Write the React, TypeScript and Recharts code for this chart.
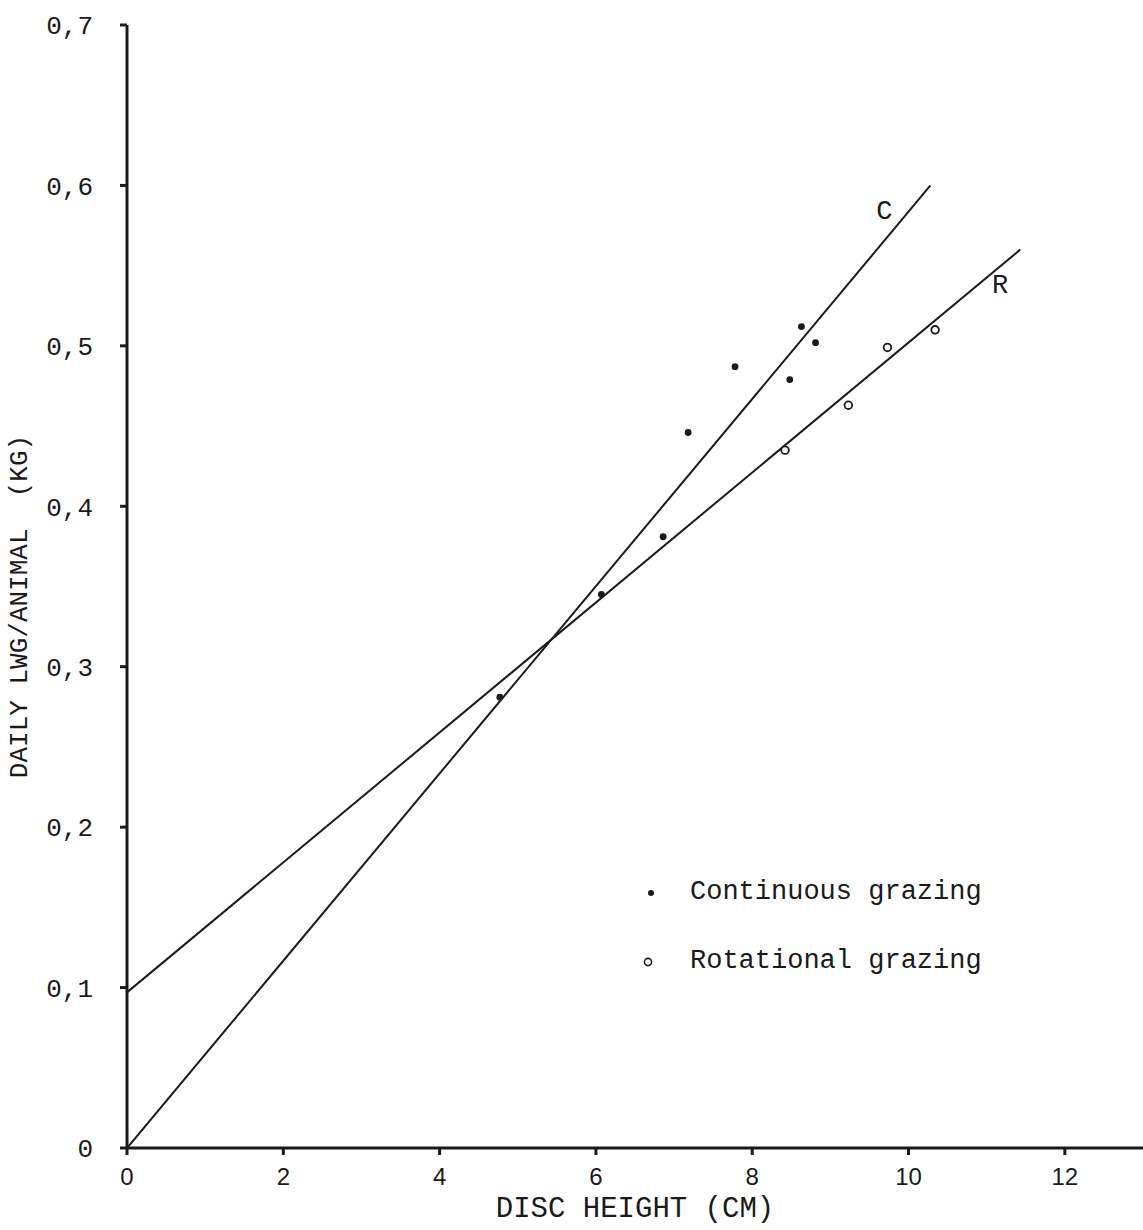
import { ScatterChart, Scatter, XAxis, YAxis, ReferenceDot } from "recharts"

// disc height (cm) / daily LWG (kg)
const continuousX = [4.77, 6.07, 6.86, 7.18, 7.78, 8.48, 8.63, 8.81]
const continuousY = [0.281, 0.345, 0.381, 0.446, 0.487, 0.479, 0.512, 0.502]
const rotationalX = [8.42, 9.23, 9.73, 10.34]
const rotationalY = [0.435, 0.463, 0.499, 0.51]

// fitted lines, read as start and end points
const lineCX = [0, 10.28]
const lineCY = [0, 0.6]
const lineRX = [0, 11.43]
const lineRY = [0.097, 0.56]

const xTicks = [0, 2, 4, 6, 8, 10, 12]
const yTicks = [0, 0.1, 0.2, 0.3, 0.4, 0.5, 0.6, 0.7]

const seriesNames = ["Continuous grazing", "Rotational grazing"]

const toPoints = (xs: number[], ys: number[]) => xs.map((x, i) => ({ x, y: ys[i] }))

const continuous = toPoints(continuousX, continuousY)
const rotational = toPoints(rotationalX, rotationalY)
const lineC = toPoints(lineCX, lineCY)
const lineR = toPoints(lineRX, lineRY)

const INK = "#1a1a1a"
const MONO = "'Liberation Mono', 'DejaVu Sans Mono', monospace"
const SANS = "'Liberation Sans', Arial, sans-serif"

const FilledDot = (props: any) => <circle cx={props.cx} cy={props.cy} r={3.4} fill={INK} />
const OpenDot = (props: any) => (
  <circle cx={props.cx} cy={props.cy} r={3.8} fill="#fff" stroke={INK} strokeWidth={1.8} />
)
const NoDot = () => null

const commaTick = (v: number) => String(v).replace(".", ",")

// rotated y title, centred on the plot's height
const YTitle = (props: any) => {
  const vb = props.viewBox || {}
  const cx = 20
  const cy = (vb.y ?? 25) + (vb.height ?? 1123) / 2 + 20
  return (
    <text
      x={cx}
      y={cy}
      transform={`rotate(-90 ${cx} ${cy})`}
      textAnchor="middle"
      dominantBaseline="central"
      fill={INK}
      fontFamily={MONO}
      fontSize={26}
      style={{ whiteSpace: "pre" }}
    >
      DAILY LWG/ANIMAL  (KG)
    </text>
  )
}

function LegendBox() {
  return (
    <div
      style={{
        position: "absolute",
        left: 630,
        top: 858,
        fontFamily: MONO,
        fontSize: 27,
        color: INK,
        lineHeight: "69px",
      }}
    >
      {seriesNames.map((name, i) => (
        <div key={name} style={{ display: "flex", alignItems: "center" }}>
          <svg width={60} height={20}>
            {i === 0 ? (
              <circle cx={21} cy={10} r={3} fill={INK} />
            ) : (
              <circle cx={18} cy={10} r={3.6} fill="#fff" stroke={INK} strokeWidth={1.6} />
            )}
          </svg>
          <span>{name}</span>
        </div>
      ))}
    </div>
  )
}

export default function App() {
  return (
    <div style={{ position: "absolute", left: 0, top: 0, width: 1143, height: 1230, background: "#fff" }}>
      <ScatterChart width={1143} height={1230} margin={{ top: 25, right: 0, bottom: 0, left: 0 }}>
        <XAxis
          type="number"
          dataKey="x"
          domain={[0, 13]}
          ticks={xTicks}
          allowDataOverflow
          height={82}
          stroke={INK}
          strokeWidth={3}
          tickSize={7}
          tickMargin={13}
          tick={{ fill: INK, fontFamily: SANS, fontSize: 24 }}
          label={{
            value: "DISC HEIGHT (CM)",
            position: "insideBottom",
            offset: 13,
            fill: INK,
            fontFamily: MONO,
            fontSize: 29,
          }}
        />
        <YAxis
          type="number"
          dataKey="y"
          domain={[0, 0.7]}
          ticks={yTicks}
          width={127}
          stroke={INK}
          strokeWidth={3}
          tickSize={7}
          tickMargin={27}
          tickFormatter={commaTick}
          tick={{ fill: INK, fontFamily: MONO, fontSize: 26 }}
          label={<YTitle />}
        />
        <Scatter
          data={lineC}
          line={{ stroke: INK, strokeWidth: 2 }}
          shape={NoDot}
          isAnimationActive={false}
          legendType="none"
        />
        <Scatter
          data={lineR}
          line={{ stroke: INK, strokeWidth: 2 }}
          shape={NoDot}
          isAnimationActive={false}
          legendType="none"
        />
        <Scatter data={continuous} shape={FilledDot} isAnimationActive={false} />
        <Scatter data={rotational} shape={OpenDot} isAnimationActive={false} />
        <ReferenceDot
          x={9.69}
          y={0.585}
          r={0}
          label={{ value: "C", fill: INK, fontFamily: MONO, fontSize: 27 }}
        />
        <ReferenceDot
          x={11.17}
          y={0.539}
          r={0}
          label={{ value: "R", fill: INK, fontFamily: MONO, fontSize: 27 }}
        />
      </ScatterChart>
      <LegendBox />
    </div>
  )
}
